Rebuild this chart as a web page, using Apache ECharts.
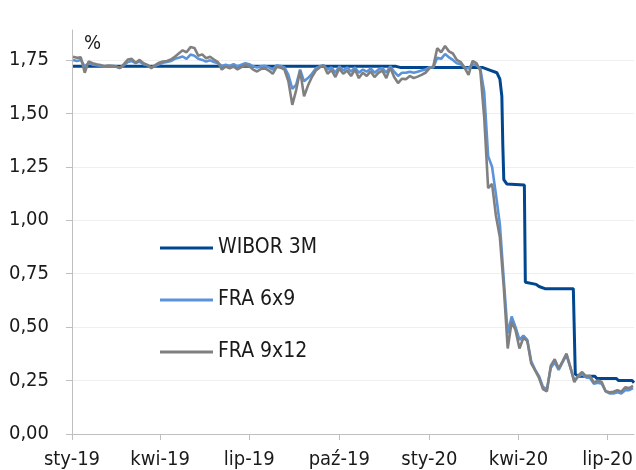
<!DOCTYPE html>
<html>
<head>
<meta charset="utf-8">
<script src="https://cdn.jsdelivr.net/npm/echarts@6/dist/echarts.min.js"></script>
<style>
    html, body { margin: 0; padding: 0; background: #fff; }
    #chart { width: 636px; height: 470px; }
</style>
</head>
<body>
<div id="chart"></div>
<script>
const FONT = "'DejaVu Sans Condensed', 'DejaVu Sans', sans-serif";
const TEXT_COLOR = '#1a1a1a';
const AXIS_COLOR = '#bfbfbf';

const xTickDates = ['2019-01-01', '2019-04-01', '2019-07-01', '2019-10-01', '2020-01-01', '2020-04-01', '2020-07-01'];
const xTickLabels = ['sty-19', 'kwi-19', 'lip-19', 'paź-19', 'sty-20', 'kwi-20', 'lip-20'];
const yTicks = [0, 0.25, 0.5, 0.75, 1, 1.25, 1.5, 1.75];

const seriesNames = ['WIBOR 3M', 'FRA 6x9', 'FRA 9x12'];
const seriesColors = ['#00478f', '#5b93db', '#808080'];

// FRA quotes, one value every 4 days from 2 Jan 2019
const FRA_START = '2019-01-02';
const FRA_STEP_DAYS = 4;

const fra6x9 = [
    1.75, 1.745, 1.75, 1.72, 1.735, 1.728, 1.725, 1.722, 1.718, 1.72,
    1.72, 1.718, 1.712, 1.725, 1.74, 1.745, 1.735, 1.742, 1.73, 1.725,
    1.715, 1.722, 1.73, 1.737, 1.74, 1.745, 1.755, 1.76, 1.766, 1.755,
    1.775, 1.77, 1.755, 1.75, 1.742, 1.748, 1.74, 1.735, 1.722, 1.728,
    1.722, 1.73, 1.72, 1.728, 1.735, 1.73, 1.72, 1.715, 1.72, 1.722,
    1.715, 1.705, 1.725, 1.722, 1.715, 1.68, 1.615, 1.635, 1.705, 1.65,
    1.665, 1.685, 1.71, 1.72, 1.725, 1.705, 1.715, 1.69, 1.72, 1.70,
    1.715, 1.695, 1.715, 1.69, 1.705, 1.695, 1.71, 1.69, 1.705, 1.712,
    1.69, 1.72, 1.695, 1.675, 1.69, 1.69, 1.695, 1.69, 1.695, 1.70,
    1.705, 1.715, 1.715, 1.76, 1.755, 1.778, 1.762, 1.75, 1.735, 1.73,
    1.715, 1.71, 1.73, 1.725, 1.71, 1.60, 1.30, 1.25, 1.12, 0.98,
    0.72, 0.47, 0.55, 0.50, 0.44, 0.46, 0.44, 0.34, 0.30, 0.27,
    0.22, 0.21, 0.31, 0.335, 0.30, 0.335, 0.37, 0.31, 0.25, 0.268,
    0.28, 0.265, 0.262, 0.235, 0.24, 0.235, 0.20, 0.19, 0.19, 0.195,
    0.19, 0.205, 0.205, 0.215
];

const fra9x12 = [
    1.765, 1.76, 1.762, 1.69, 1.743, 1.735, 1.73, 1.726, 1.72, 1.724,
    1.722, 1.72, 1.712, 1.73, 1.752, 1.755, 1.737, 1.75, 1.735, 1.727,
    1.711, 1.726, 1.737, 1.743, 1.745, 1.752, 1.765, 1.78, 1.795, 1.786,
    1.81, 1.806, 1.77, 1.776, 1.758, 1.765, 1.752, 1.74, 1.705, 1.719,
    1.711, 1.719, 1.706, 1.716, 1.725, 1.72, 1.705, 1.696, 1.708, 1.71,
    1.70, 1.685, 1.718, 1.714, 1.705, 1.65, 1.54, 1.61, 1.70, 1.58,
    1.63, 1.67, 1.70, 1.715, 1.725, 1.685, 1.703, 1.67, 1.71, 1.685,
    1.70, 1.675, 1.705, 1.665, 1.69, 1.675, 1.696, 1.67, 1.69, 1.70,
    1.665, 1.715, 1.67, 1.642, 1.662, 1.66, 1.675, 1.665, 1.672, 1.68,
    1.69, 1.71, 1.72, 1.805, 1.785, 1.815, 1.79, 1.78, 1.75, 1.74,
    1.713, 1.68, 1.745, 1.735, 1.70, 1.48, 1.15, 1.17, 1.02, 0.92,
    0.685, 0.40, 0.525, 0.485, 0.40, 0.45, 0.435, 0.33, 0.298, 0.262,
    0.21, 0.20, 0.32, 0.35, 0.306, 0.34, 0.376, 0.313, 0.243, 0.274,
    0.29, 0.27, 0.272, 0.24, 0.25, 0.243, 0.20, 0.195, 0.198, 0.205,
    0.198, 0.218, 0.215, 0.225
];

// WIBOR 3M only moves at the rate cuts, so it is kept as turning points
const wiborDates = [
    '2019-01-02', '2019-11-28', '2019-12-02', '2020-02-24', '2020-03-04',
    '2020-03-10', '2020-03-13', '2020-03-15', '2020-03-16', '2020-03-17',
    '2020-03-20', '2020-04-07', '2020-04-08', '2020-04-19', '2020-04-22',
    '2020-04-28', '2020-05-27', '2020-05-29', '2020-06-01', '2020-06-18',
    '2020-06-20', '2020-07-10', '2020-07-12', '2020-07-26', '2020-07-28'
];
const wibor3m = [
    1.72, 1.72, 1.715, 1.715, 1.70,
    1.69, 1.66, 1.58, 1.35, 1.19,
    1.17, 1.165, 0.71, 0.70, 0.69,
    0.68, 0.68, 0.28, 0.27, 0.27,
    0.26, 0.26, 0.25, 0.25, 0.24
];

function parseDay(text) {
    const [y, m, d] = text.split('-').map(Number);
    return new Date(y, m - 1, d).getTime();
}

function buildFraDates(count) {
    const start = parseDay(FRA_START);
    const dates = [];
    for (let i = 0; i < count; i++) {
        const day = new Date(start);
        day.setDate(day.getDate() + i * FRA_STEP_DAYS);
        dates.push(day.getTime());
    }
    return dates;
}

function zipSeries(dates, values) {
    return values.map((value, i) => [dates[i], value]);
}

function formatPl(value) {
    return value.toFixed(2).replace('.', ',');
}

function buildChartOptions() {
    const fraDates = buildFraDates(fra6x9.length);
    const tickValues = xTickDates.map(parseDay);
    const tickLabelByValue = {};
    tickValues.forEach((v, i) => { tickLabelByValue[v] = xTickLabels[i]; });

    const seriesData = [
        zipSeries(wiborDates.map(parseDay), wibor3m),
        zipSeries(fraDates, fra6x9),
        zipSeries(fraDates, fra9x12)
    ];
    const lineWidths = [3, 2.6, 2.6];

    return {
        animation: false,
        backgroundColor: '#fff',
        grid: { left: 72, right: 0, top: 30, bottom: 36 },
        graphic: [{
            type: 'text',
            left: 84,
            top: 34,
            style: { text: '%', font: `20px ${FONT}`, fill: TEXT_COLOR }
        }],
        legend: {
            data: seriesNames,
            orient: 'vertical',
            left: 160,
            top: 237,
            padding: 0,
            icon: 'rect',
            itemWidth: 53,
            itemHeight: 3,
            itemGap: 30,
            textStyle: { fontFamily: FONT, fontSize: 21, lineHeight: 22, color: TEXT_COLOR }
        },
        xAxis: {
            type: 'value',
            min: parseDay('2019-01-01'),
            max: parseDay('2020-07-28'),
            axisLine: { lineStyle: { color: AXIS_COLOR, width: 1 } },
            axisTick: { show: true, length: 6, customValues: tickValues, lineStyle: { color: AXIS_COLOR } },
            axisLabel: {
                customValues: tickValues,
                formatter: (value) => tickLabelByValue[value] || '',
                fontFamily: FONT,
                fontSize: 20,
                color: TEXT_COLOR,
                margin: 16
            },
            splitLine: { show: false }
        },
        yAxis: {
            type: 'value',
            min: 0,
            max: 1.89,
            interval: 0.25,
            axisLine: { show: true, lineStyle: { color: AXIS_COLOR, width: 1 } },
            axisTick: { show: true, length: 6, customValues: yTicks, lineStyle: { color: AXIS_COLOR } },
            axisLabel: {
                customValues: yTicks,
                formatter: formatPl,
                fontFamily: FONT,
                fontSize: 20,
                color: TEXT_COLOR,
                margin: 23
            },
            splitLine: { show: true, lineStyle: { color: '#efefef', width: 1 } }
        },
        series: seriesNames.map((name, i) => ({
            name,
            type: 'line',
            data: seriesData[i],
            showSymbol: false,
            symbol: 'none',
            color: seriesColors[i],
            lineStyle: { color: seriesColors[i], width: lineWidths[i] }
        }))
    };
}

function initChart() {
    const chartDom = document.getElementById('chart');
    const chart = echarts.init(chartDom);
    chart.setOption(buildChartOptions());
}

initChart();
</script>
</body>
</html>
